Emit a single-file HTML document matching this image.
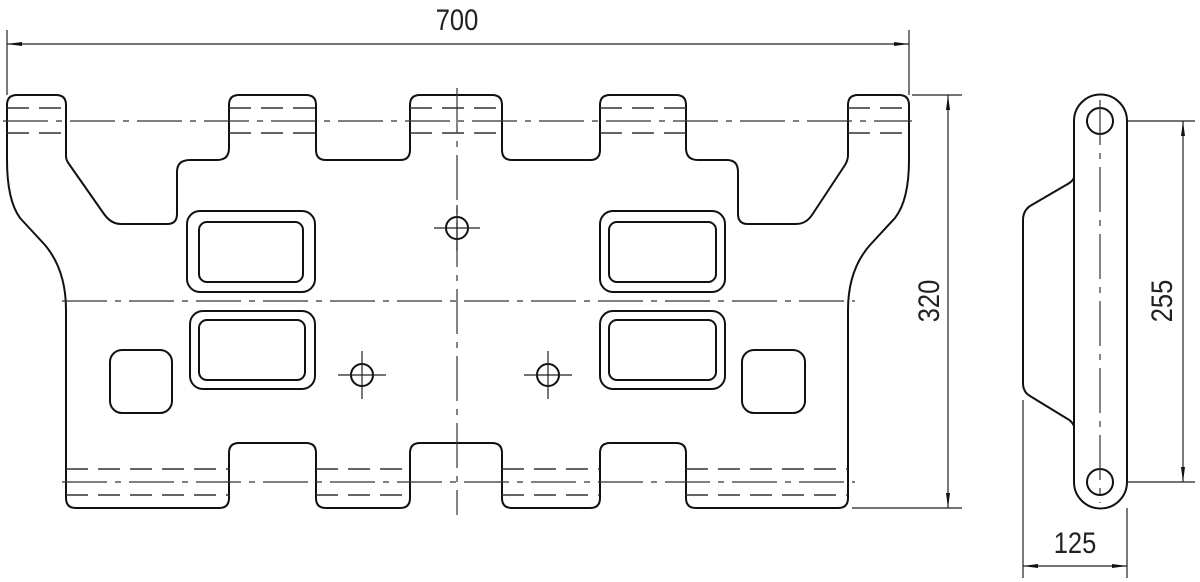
<!DOCTYPE html>
<html><head><meta charset="utf-8"><style>
html,body{margin:0;padding:0;background:#fff;}
svg{display:block;}
text{font-family:"Liberation Sans",sans-serif;font-size:30px;fill:#222;}
</style></head><body>
<svg width="1200" height="582" viewBox="0 0 1200 582" xmlns="http://www.w3.org/2000/svg">
<g fill="none" stroke="#111" stroke-width="2" stroke-linejoin="round">
<!-- main outline -->
<path d="M7,105 Q7,95 17,95 L56,95 Q66,95 66,105 L66,156 Q66,160 69,164 L104,214 Q111,224 121,224 L167,224 Q177,224 177,214 L177,172 Q177,160 190,160 L217,160 Q229,160 229,148 L229,105 Q229,95 239,95 L306,95 Q316,95 316,105 L316,150 Q316,160 326,160 L400,160 Q410,160 410,150 L410,105 Q410,95 420,95 L492,95 Q502,95 502,105 L502,150 Q502,160 512,160 L590,160 Q600,160 600,150 L600,105 Q600,95 610,95 L676,95 Q686,95 686,105 L686,148 Q686,160 698,160 L727,160 Q738,160 738,172 L738,214 Q738,224 748,224 L796,224 Q806,224 812,215 L845,165 Q848,160 848,155 L848,105 Q848,95 858,95 L899,95 Q909,95 909,105 L909,160 Q909,200 895,218 L870,245 Q848,270 848,310 L848,498 Q848,508 838,508 L696,508 Q686,508 686,498 L686,453 Q686,443 676,443 L610,443 Q600,443 600,453 L600,498 Q600,508 590,508 L512,508 Q502,508 502,498 L502,453 Q502,443 492,443 L420,443 Q410,443 410,453 L410,498 Q410,508 400,508 L326,508 Q316,508 316,498 L316,453 Q316,443 306,443 L239,443 Q229,443 229,453 L229,498 Q229,508 219,508 L76,508 Q66,508 66,498 L66,310 Q66,270 45,245 L20,218 Q7,200 7,160 Z"/>
<!-- windows -->
<rect x="187" y="211" width="128" height="81" rx="13"/>
<rect x="199" y="222" width="104" height="60" rx="8"/>
<rect x="190" y="311" width="125" height="78" rx="13"/>
<rect x="199" y="320" width="106" height="60" rx="8"/>
<rect x="600" y="211" width="125" height="81" rx="13"/>
<rect x="609" y="222" width="107" height="60" rx="8"/>
<rect x="600" y="311" width="125" height="78" rx="13"/>
<rect x="609" y="320" width="107" height="60" rx="8"/>
<rect x="110" y="350" width="62" height="63" rx="12"/>
<rect x="742" y="350" width="63" height="63" rx="12"/>
<circle cx="457" cy="228" r="11"/>
<circle cx="362" cy="375" r="11"/>
<circle cx="548" cy="375" r="11"/>
<!-- side view -->
<path d="M1074,121 A26,26 0 0 1 1127,121 L1127,482 A26,26 0 0 1 1074,482 Z"/>
<circle cx="1100" cy="121" r="13"/>
<circle cx="1100" cy="482" r="13"/>
<path d="M1074,178 Q1072,182 1066,185 L1030,206 Q1023,211 1023,220 L1023,383 Q1023,392 1030,396 L1066,418 Q1072,421 1074,426"/>
</g>
<!-- hidden lines -->
<g fill="none" stroke="#333" stroke-width="1.4" stroke-dasharray="22,10">
<path d="M7,108 H66 M7,133 H66 M229,108 H316 M229,133 H316 M410,108 H502 M410,133 H502 M600,108 H686 M600,133 H686 M848,108 H909 M848,133 H909"/>
<path d="M66,469 H229 M66,495 H229 M316,469 H410 M316,495 H410 M502,469 H600 M502,495 H600 M686,469 H848 M686,495 H848"/>
</g>
<!-- centerlines -->
<g fill="none" stroke="#333" stroke-width="1.2" stroke-dasharray="45,8,6,8">
<path d="M3,121 H912"/>
<path d="M62,301 H855"/>
<path d="M62,482 H855"/>
<path d="M457,88 V515"/>
<path d="M1100,100 V503"/>
</g>
<g fill="none" stroke="#222" stroke-width="1.2">
<path d="M434,228 H480 M457,205 V251"/>
<path d="M338,375 H386 M362,351 V399"/>
<path d="M524,375 H572 M548,351 V399"/>
<!-- dims -->
<path d="M7,30 V95 M909,30 V95 M7,44 H909"/>
<path d="M912,95 H962 M852,508 H962 M948,95 V508"/>
<path d="M1127,121 H1195 M1127,482 H1195 M1183,121 V482"/>
<path d="M1023,400 V578 M1127,508 V578 M1023,566 H1127"/>
</g>
<g fill="#111">
<path d="M7,44 L22,42 L22,46 Z"/><path d="M909,44 L894,42 L894,46 Z"/>
<path d="M948,95 L946,110 L950,110 Z"/><path d="M948,508 L946,493 L950,493 Z"/>
<path d="M1183,121 L1181,136 L1185,136 Z"/><path d="M1183,482 L1181,467 L1185,467 Z"/>
<path d="M1023,566 L1038,564 L1038,568 Z"/><path d="M1127,566 L1112,564 L1112,568 Z"/>
</g>
<text x="457" y="30" text-anchor="middle" transform="translate(457,0) scale(0.85,1) translate(-457,0)">700</text>
<text transform="translate(939,301) rotate(-90) scale(0.85,1)" text-anchor="middle">320</text>
<text transform="translate(1172,301) rotate(-90) scale(0.85,1)" text-anchor="middle">255</text>
<text x="1075" y="553" text-anchor="middle" transform="translate(1075,0) scale(0.85,1) translate(-1075,0)">125</text>
</svg>
</body></html>
